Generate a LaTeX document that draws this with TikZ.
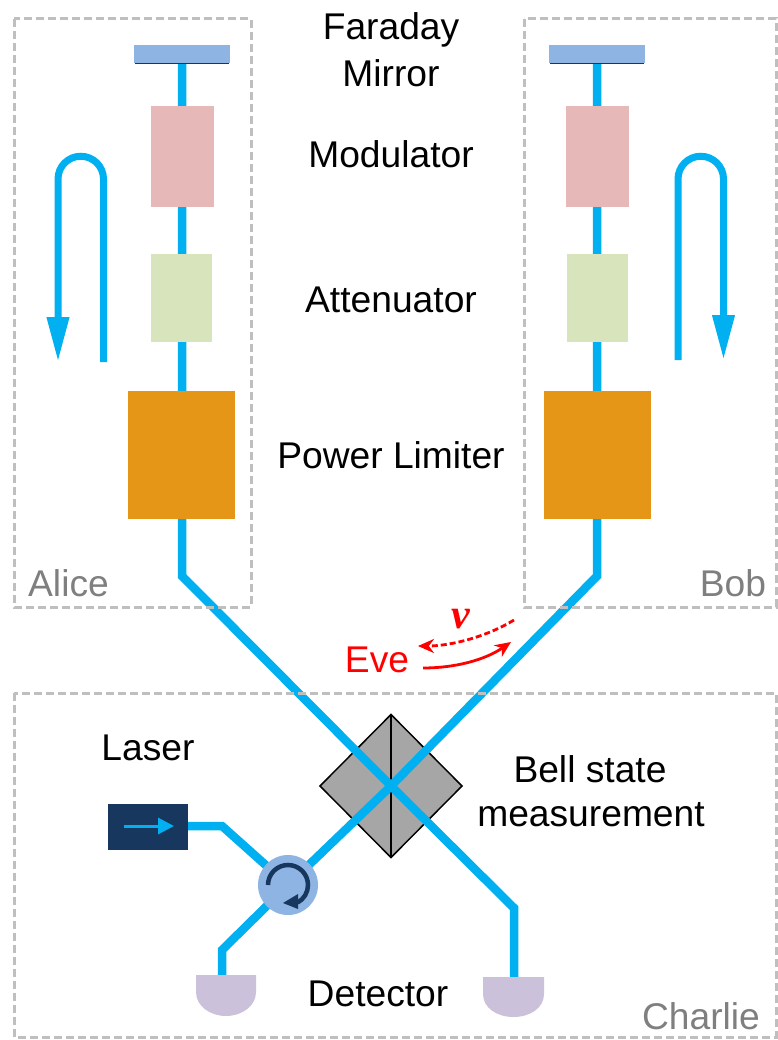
\documentclass[tikz,border=0pt]{standalone}
\usepackage{fontspec}
\setmainfont{Liberation Sans}
\newfontfamily\vfont{Liberation Serif}
\usetikzlibrary{arrows.meta,shapes.geometric,backgrounds}
\definecolor{fibre}{HTML}{00B0F0}
\definecolor{framegray}{HTML}{BFBFBF}
\definecolor{labelgray}{HTML}{7F7F7F}
\definecolor{mirrorblue}{HTML}{8EB4E3}
\definecolor{navy}{HTML}{17375E}
\definecolor{modpink}{HTML}{E6B9B8}
\definecolor{attgreen}{HTML}{D8E4BC}
\definecolor{limorange}{HTML}{E59616}
\definecolor{detpurple}{HTML}{CCC1DA}
\definecolor{bsgray}{HTML}{A6A6A6}
\definecolor{evered}{HTML}{FF0000}
\tikzset{
  x=1pt,y=-1pt,
  blockbox/.style={draw=none,inner sep=0pt,outer sep=0pt,rectangle},
  mirrorbox/.style={blockbox,fill=mirrorblue,minimum width=96pt,minimum height=18pt},
  modbox/.style={blockbox,fill=modpink,minimum width=63pt,minimum height=101pt},
  attbox/.style={blockbox,fill=attgreen,minimum width=61pt,minimum height=88pt},
  limbox/.style={blockbox,fill=limorange,minimum width=107pt,minimum height=128pt},
  laserbox/.style={blockbox,fill=navy,minimum width=80pt,minimum height=46pt},
  bsbox/.style={diamond,draw=black,line width=1.5pt,fill=bsgray,inner sep=0pt,outer sep=0pt,minimum width=142pt,minimum height=143pt},
  circbox/.style={circle,fill=mirrorblue,draw=none,inner sep=0pt,outer sep=0pt,minimum size=60pt},
  frameline/.style={draw=framegray,line width=3pt,dash pattern=on 8pt off 4pt},
  fibreline/.style={draw=fibre,line width=8.5pt,line join=miter},
  uarrow/.style={draw=fibre,line width=7pt,-{Triangle[length=45pt,width=21pt]}},
  lab/.style={inner sep=0pt,outer sep=0pt,font=\fontsize{37.2}{37.2}\selectfont,text=black},
  graylab/.style={lab,text=labelgray},
  evelab/.style={lab,text=evered},
  detshape/.style={fill=detpurple,draw=none},
  evearrow/.style={draw=evered,line width=2.8pt,-{Stealth[length=16pt,width=14pt]}},
}
\begin{document}
\begin{tikzpicture}
\useasboundingbox (0,0) rectangle (777,1040);
% frames
\draw[frameline] (14,19) rectangle (251,607);
\draw[frameline] (524,19) rectangle (776,607);
\draw[frameline] (14,693) rectangle (776,1037);
% Alice column
\node[mirrorbox] (mirA) at (182,54.5) {};
\node[modbox] (modA) at (182,156.5) {};
\node[attbox] (attA) at (181.5,298) {};
\node[limbox] (limA) at (181.5,455) {};
% Bob column
\node[mirrorbox] (mirB) at (597,54.5) {};
\node[modbox] (modB) at (597.5,156.5) {};
\node[attbox] (attB) at (597.5,298) {};
\node[limbox] (limB) at (597.5,455) {};
\draw[navy,line width=1.6pt] (135,63.5) -- (229,63.5);
\draw[navy,line width=1.6pt] (550,63.5) -- (644,63.5);
% Charlie parts
\node[laserbox] (laser) at (148,827) {};
\node[circbox] (circ) at (288,885) {};
\coordinate (bendA) at (182,576);
\coordinate (bendB) at (597,576);
\coordinate (centre) at (391,786);
\coordinate (bendR) at (514,908);
\coordinate (bendL) at (222,950);
\coordinate (bendLaser) at (222,826);
\coordinate (detR) at (514,978);
\coordinate (detLtop) at (222,976);
% light paths, behind the blocks and above the beam splitter
\begin{scope}[on background layer]
  \node[bsbox] (bs) at (centre) {};
  \draw[black,line width=1.5pt] (bs.north) -- (bs.south);
  \draw[fibreline] (mirA.south) -- (bendA) -- (centre) -- (bendR) -- (detR);
  \draw[fibreline] (mirB.south) -- (bendB) -- (centre) -- (circ.center) -- (bendL) -- (detLtop);
  \draw[fibreline] (laser.east |- bendLaser) -- (bendLaser) -- (circ.center);
\end{scope}
% detectors
\draw[detshape] (196,975) -- (256,975) -- (256,992) .. controls (256,1006) and (242,1016) .. (226,1016) .. controls (210,1016) and (196,1006) .. (196,992) -- cycle;
\draw[detshape] (483,977) -- (544,977) -- (544,994) .. controls (544,1008) and (530,1017) .. (513.5,1017) .. controls (497,1017) and (483,1008) .. (483,994) -- cycle;
% laser arrow
\draw[fibre,line width=3pt,-{Triangle[length=16pt,width=16pt]}] (124,826) -- (174,826);
% circulator arrow
\draw[navy,line width=4.5pt] (268,885) arc[start angle=180,end angle=-62,radius=20pt];
\fill[navy] (283,903) -- (298,894) -- (298,909) -- cycle;
% direction arrows
\coordinate (uAstart) at (103.5,362);
\coordinate (uAend) at (58,362);
\coordinate (uBstart) at (678,360);
\coordinate (uBend) at (723.5,360);
\draw[uarrow] (uAstart) -- (103.5,179) arc[start angle=0,end angle=180,radius=22.75pt] -- (uAend);
\draw[uarrow] (uBstart) -- (678,179) arc[start angle=180,end angle=0,radius=22.75pt] -- (uBend);
% Eve
\node[evelab] (eve) at (377,660) {Eve};
\node[evelab,font=\fontsize{42}{42}\selectfont] (vlab) at (461,619) {\vfont\bfseries\itshape v};
\coordinate (eveA) at (514,620);
\coordinate (eveB) at (418,646);
\coordinate (eveC) at (423,668);
\coordinate (eveD) at (511,642);
\draw[evearrow,dash pattern=on 6pt off 3pt] (eveA) .. controls (488,636) and (452,646) .. (eveB);
\draw[evearrow] (eveC) .. controls (455,668) and (485,660) .. (eveD);
% labels
\node[lab] (l1) at (391,30) {Faraday};
\node[lab] (l2) at (391,73) {Mirror};
\node[lab] (l3) at (391,154) {Modulator};
\node[lab] (l4) at (391,300) {Attenuator};
\node[lab] (l5) at (391,455.5) {Power Limiter};
\node[lab] (l6) at (148,748) {Laser};
\node[lab] (l7) at (590,769.5) {Bell state};
\node[lab] (l8) at (591,815) {measurement};
\node[lab] (l9) at (378,994) {Detector};
\node[graylab] (alice) at (68.5,583) {Alice};
\node[graylab] (bob) at (733,583) {Bob};
\node[graylab] (charlie) at (701,1016) {Charlie};
\end{tikzpicture}
\end{document}
